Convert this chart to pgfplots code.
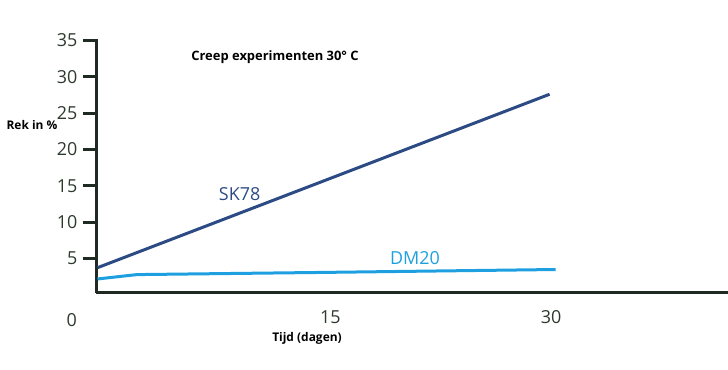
\documentclass[border=0pt]{standalone}
\usepackage{pgfplots}
\pgfplotsset{compat=1.18}
\usepackage{fontspec}
\setmainfont{Open Sans}
\definecolor{axcol}{HTML}{1F2A22}
\definecolor{tickcol}{HTML}{2E3A2E}
\definecolor{skcol}{HTML}{2C4B85}
\definecolor{dmcol}{HTML}{1E9FE0}
\begin{document}
\begin{tikzpicture}
\path[use as bounding box] (0,0) rectangle (728bp,370bp);
\begin{axis}[
  at={(96bp,77bp)}, anchor=south west,
  scale only axis, width=632bp, height=254bp,
  xmin=0, xmax=41.8, ymin=0.27, ymax=35.2,
  axis lines=left,
  axis line style={-, line width=3bp, color=axcol},
  ytick={5,10,15,20,25,30,35},
  xtick={15.5,30.1},
  xticklabels={15,30},
  /pgf/number format/assume math mode=true,
  tick label style={font=\fontsize{18}{18}\selectfont, text=tickcol},
  ytick style={line width=3bp, color=axcol},
  xtick style={draw=none},
  tick align=outside,
  y tick label style={xshift=-2bp},
  x tick label style={yshift=-1bp},
  major tick length=13bp,
  clip=false,
]
\addplot[skcol, line width=3bp] coordinates {(0.1,3.75) (30,27.6)};
\addplot[dmcol, line width=3bp] coordinates {(0.1,2.2) (2.7,2.8) (15,3.1) (30.4,3.5)};
\node[text=skcol, font=\fontsize{18}{18}\selectfont] at (axis cs:9.5,13.9) {SK78};
\node[text=dmcol, font=\fontsize{18}{18}\selectfont] at (axis cs:21.1,5.1) {DM20};
\node[text=tickcol, font=\fontsize{18}{18}\selectfont] at (axis cs:-1.6,-3.4) {0};
\end{axis}
\node[font=\bfseries\fontsize{13}{13}\selectfont] at (275bp,313bp) {Creep experimenten 30° C};
\node[font=\bfseries\fontsize{12}{12}\selectfont] at (32bp,245bp) {Rek in \%};
\node[font=\bfseries\fontsize{12}{12}\selectfont] at (307bp,32bp) {Tijd (dagen)};
\end{tikzpicture}
\end{document}
